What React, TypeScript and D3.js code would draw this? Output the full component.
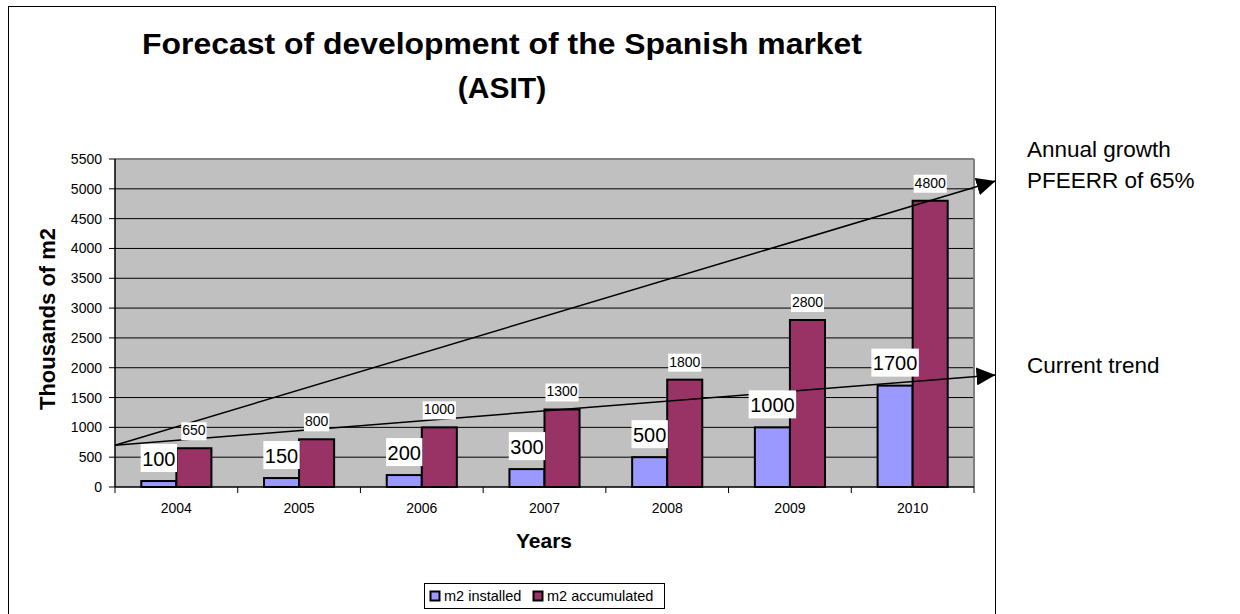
import React from 'react';
import * as d3 from 'd3';

// chart values
const years = ['2004', '2005', '2006', '2007', '2008', '2009', '2010'];
const installed = [100, 150, 200, 300, 500, 1000, 1700];
const accumulated = [650, 800, 1000, 1300, 1800, 2800, 4800];
const seriesNames = ['m2 installed', 'm2 accumulated'];
const seriesColors = ['#9999FF', '#993366'];

// trend arrows: start value at the left edge, end value at the frame edge
const trendStart = 700;
const trendEnds = [5130, 1880];
const trendLabels = [['Annual growth', 'PFEERR of 65%'], ['Current trend']];

const W = 1240;
const H = 614;
const frame = { left: 8.5, top: 6.5, right: 995.5 };
const plot = { left: 115, right: 974, top: 159, bottom: 487 };
const font = "'Liberation Sans', Arial, Helvetica, sans-serif";

const digitW = 0.556;

export default function App() {
    const x0 = d3.scaleBand<string>()
        .domain(years)
        .range([plot.left, plot.right])
        .paddingInner(1.5 / 3.5)
        .paddingOuter(0.75 / 3.5);
    const x1 = d3.scaleBand<string>()
        .domain(seriesNames)
        .range([0, x0.bandwidth()]);
    const y = d3.scaleLinear().domain([0, 5500]).range([plot.bottom, plot.top]);
    const yTicks = y.ticks(11);
    const step = x0.step();
    const boundaries = d3.range(years.length + 1).map(i => plot.left + i * step);

    const series = [installed, accumulated];
    const cx = (frame.left + frame.right) / 2;

    return (
        <svg width={W} height={H} style={{ position: 'absolute', left: 0, top: 0, fontFamily: font }}>
            <defs>
                <marker id="arrow" markerUnits="userSpaceOnUse" markerWidth={20} markerHeight={18}
                    refX={19} refY={9} orient="auto" viewBox="0 0 20 18">
                    <path d="M0,0 L19,9 L0,18 Z" fill="#000" />
                </marker>
            </defs>
            <rect x={0} y={0} width={W} height={H} fill="#fff" />
            <rect x={frame.left} y={frame.top} width={frame.right - frame.left} height={H + 10}
                fill="#fff" stroke="#000" strokeWidth={1} />

            {/* title */}
            <text x={cx} y={54} textAnchor="middle" fontSize={30} fontWeight="bold"
                textLength={720} lengthAdjust="spacingAndGlyphs">
                Forecast of development of the Spanish market
            </text>
            <text x={cx} y={98} textAnchor="middle" fontSize={30} fontWeight="bold">
                (ASIT)
            </text>

            {/* plot area */}
            <rect x={plot.left} y={plot.top} width={plot.right - plot.left} height={plot.bottom - plot.top} fill="#C0C0C0" />
            {yTicks.filter(t => t > 0 && t < 5500).map(t => (
                <line key={t} x1={plot.left} x2={plot.right} y1={y(t)} y2={y(t)} stroke="#000" strokeWidth={1} />
            ))}
            <line x1={plot.left} x2={plot.right} y1={plot.top} y2={plot.top} stroke="#808080" strokeWidth={2} />
            <line x1={plot.right} x2={plot.right} y1={plot.top} y2={plot.bottom} stroke="#808080" strokeWidth={2} />

            {/* bars */}
            {years.map((yr, i) => (
                <g key={yr}>
                    {series.map((vals, s) => (
                        <rect key={s} x={x0(yr)! + x1(seriesNames[s])!} y={y(vals[i])}
                            width={x1.bandwidth()} height={y(0) - y(vals[i])}
                            fill={seriesColors[s]} stroke="#000" strokeWidth={2} />
                    ))}
                </g>
            ))}

            {/* axes */}
            <line x1={plot.left} x2={plot.left} y1={plot.top} y2={plot.bottom} stroke="#000" strokeWidth={1.5} />
            <line x1={plot.left} x2={plot.right} y1={plot.bottom} y2={plot.bottom} stroke="#000" strokeWidth={1.5} />
            {yTicks.map(t => (
                <g key={t}>
                    <line x1={plot.left - 6} x2={plot.left} y1={y(t)} y2={y(t)} stroke="#000" />
                    <text x={102} y={y(t)} dy="0.36em" textAnchor="end" fontSize={14}>{t}</text>
                </g>
            ))}
            {boundaries.map((bx, i) => (
                <line key={i} x1={bx} x2={bx} y1={plot.bottom} y2={plot.bottom + 6} stroke="#000" />
            ))}
            {years.map(yr => (
                <text key={yr} x={x0(yr)! + x0.bandwidth() / 2} y={513} textAnchor="middle" fontSize={14}>{yr}</text>
            ))}

            {/* axis titles */}
            <text x={544} y={548} textAnchor="middle" fontSize={21} fontWeight="bold">Years</text>
            <text transform={`translate(55,${(plot.top + plot.bottom) / 2 - 4}) rotate(-90)`} textAnchor="middle"
                fontSize={22} fontWeight="bold">Thousands of m2</text>

            {/* trend arrows */}
            {trendEnds.map((v, i) => (
                <line key={i} x1={plot.left} y1={y(trendStart)} x2={frame.right} y2={y(v)}
                    stroke="#000" strokeWidth={1.5} markerEnd="url(#arrow)" />
            ))}

            {/* data labels */}
            {years.map((yr, i) => {
                const v = installed[i];
                const bx = x0(yr)! + x1(seriesNames[0])! + x1.bandwidth() / 2;
                const base = y(v) - 15.5;
                const tw = String(v).length * digitW * 20;
                return (
                    <g key={'a' + yr}>
                        <rect x={bx - tw / 2 - 1.5} y={base - 21.5} width={tw + 3} height={28} fill="#fff" />
                        <text x={bx} y={base} textAnchor="middle" fontSize={20}>{v}</text>
                    </g>
                );
            })}
            {years.map((yr, i) => {
                const v = accumulated[i];
                const bx = x0(yr)! + x1(seriesNames[1])! + x1.bandwidth() / 2;
                const base = y(v) - 13;
                const tw = String(v).length * digitW * 14;
                return (
                    <g key={'b' + yr}>
                        <rect x={bx - tw / 2 - 1} y={base - 13} width={tw + 2} height={18} fill="#fff" />
                        <text x={bx} y={base} textAnchor="middle" fontSize={14}>{v}</text>
                    </g>
                );
            })}

            {/* annotations right of the frame */}
            {trendLabels.map((lines, i) => (
                <text key={i} x={1027} y={i === 0 ? 157 : 373} fontSize={22.5}>
                    {lines.map((l, j) => (
                        <tspan key={j} x={1027} dy={j === 0 ? 0 : 31}>{l}</tspan>
                    ))}
                </text>
            ))}

            {/* legend */}
            <rect x={424.5} y={583.5} width={240} height={25} fill="#fff" stroke="#000" strokeWidth={1} />
            {seriesNames.map((name, s) => {
                const lx = s === 0 ? 430 : 533;
                return (
                    <g key={name}>
                        <rect x={lx + 0.5} y={591.5} width={9} height={9} fill={seriesColors[s]} stroke="#000" strokeWidth={2} />
                        <text x={lx + 14} y={601} fontSize={14.5}>{name}</text>
                    </g>
                );
            })}
        </svg>
    );
}
